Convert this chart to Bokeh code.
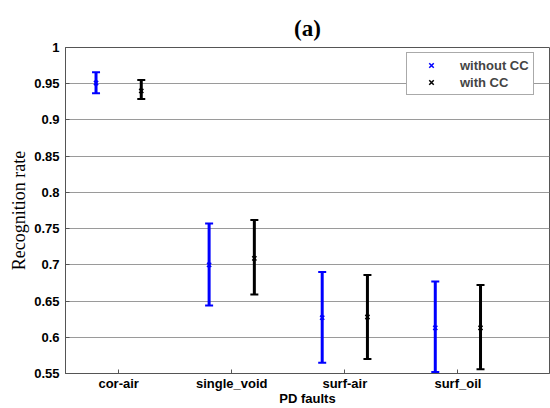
from bokeh.plotting import figure
from bokeh.models import (ColumnDataSource, Whisker, TeeHead, FixedTicker,
                          Range1d, Legend, LegendItem)
from bokeh.transform import dodge
from bokeh.embed import file_html
from bokeh.resources import INLINE

categories = ["cor-air", "single_void", "surf-air", "surf_oil"]
without_mean = [0.951, 0.700, 0.627, 0.613]
without_lower = [0.937, 0.644, 0.565, 0.552]
without_upper = [0.966, 0.757, 0.690, 0.677]
with_mean = [0.940, 0.709, 0.628, 0.613]
with_lower = [0.929, 0.659, 0.570, 0.556]
with_upper = [0.955, 0.762, 0.686, 0.672]
y_ticks = [0.55, 0.6, 0.65, 0.7, 0.75, 0.8, 0.85, 0.9, 0.95, 1.0]
y_tick_labels = ["0.55", "0.6", "0.65", "0.7", "0.75", "0.8", "0.85", "0.9", "0.95", "1"]

xs = [i + 1 for i in range(len(categories))]
src_wo = ColumnDataSource(dict(x=xs, mean=without_mean, lo=without_lower, hi=without_upper))
src_w = ColumnDataSource(dict(x=xs, mean=with_mean, lo=with_lower, hi=with_upper))

p = figure(width=550, height=408, output_backend="svg", toolbar_location=None,
           x_range=Range1d(0.53, 4.81), y_range=Range1d(0.55, 1.0),
           min_border_left=65, min_border_right=1, min_border_top=47, min_border_bottom=35)

p.title.text = "(a)"
p.title.align = "center"
p.title.vertical_align = "top"
p.title.standoff = 10
p.title.text_font = "Liberation Serif"
p.title.text_font_size = "23px"
p.title.text_font_style = "bold"
p.title.text_color = "black"

p.outline_line_color = "#555555"
p.xgrid.grid_line_color = None
p.ygrid.grid_line_color = "#9a9a9a"
p.ygrid.grid_line_width = 1
p.ygrid.ticker = FixedTicker(ticks=y_ticks)

p.yaxis.ticker = FixedTicker(ticks=y_ticks)
p.yaxis.major_label_overrides = {t: l for t, l in zip(y_ticks, y_tick_labels)}
p.yaxis.minor_tick_line_color = None
p.yaxis.major_tick_in = 4
p.yaxis.major_tick_out = 0
p.yaxis.major_tick_line_color = "#555555"
p.yaxis.axis_line_color = "#555555"
p.yaxis.major_label_text_font = "Liberation Sans"
p.yaxis.major_label_text_font_style = "bold"
p.yaxis.major_label_text_font_size = "13px"
p.yaxis.major_label_text_color = "black"
p.yaxis.major_label_standoff = 6
p.yaxis.axis_label = "Recognition rate"
p.yaxis.axis_label_text_font = "Liberation Serif"
p.yaxis.axis_label_text_font_style = "normal"
p.yaxis.axis_label_text_font_size = "18px"
p.yaxis.axis_label_text_color = "black"
p.yaxis.axis_label_standoff = 2

p.xaxis.ticker = FixedTicker(ticks=xs)
p.xaxis.major_label_overrides = {x: c for x, c in zip(xs, categories)}
p.xaxis.minor_tick_line_color = None
p.xaxis.major_tick_in = 4
p.xaxis.major_tick_out = 0
p.xaxis.major_tick_line_color = "#555555"
p.xaxis.axis_line_color = "#555555"
p.xaxis.major_label_text_font = "Liberation Sans"
p.xaxis.major_label_text_font_style = "bold"
p.xaxis.major_label_text_font_size = "13px"
p.xaxis.major_label_text_color = "black"
p.xaxis.major_label_standoff = 2
p.xaxis.axis_label = "PD faults"
p.xaxis.axis_label_text_font = "Liberation Sans"
p.xaxis.axis_label_text_font_style = "bold"
p.xaxis.axis_label_text_font_size = "13px"
p.xaxis.axis_label_text_color = "black"
p.xaxis.axis_label_standoff = -3

for src, color, off in [(src_wo, "#0000ff", -0.2), (src_w, "black", 0.2)]:
    w = Whisker(source=src, base=dodge("x", off), upper="hi", lower="lo",
                dimension="height", line_color=color, line_width=3,
                upper_head=TeeHead(size=8, line_color=color, line_width=2),
                lower_head=TeeHead(size=8, line_color=color, line_width=2))
    p.add_layout(w)

r_wo = p.scatter(x=dodge("x", -0.2), y="mean", source=src_wo, marker="x", size=6,
                 line_color="#0000ff", line_width=1.5)
r_w = p.scatter(x=dodge("x", 0.2), y="mean", source=src_w, marker="x", size=6,
                line_color="black", line_width=1.5)

legend = Legend(items=[LegendItem(label="without CC", renderers=[r_wo]),
                       LegendItem(label="with CC", renderers=[r_w])],
                location=(341, 278), padding=4, margin=0, spacing=1,
                glyph_width=40, glyph_height=16, label_height=16, label_standoff=9,
                label_text_font="Liberation Sans", label_text_font_style="bold",
                label_text_font_size="13px", border_line_color="#555555",
                border_line_width=1, background_fill_alpha=1)
p.add_layout(legend)

out = open("out.html", "w")
out.write(file_html(p, INLINE))
out.close()
